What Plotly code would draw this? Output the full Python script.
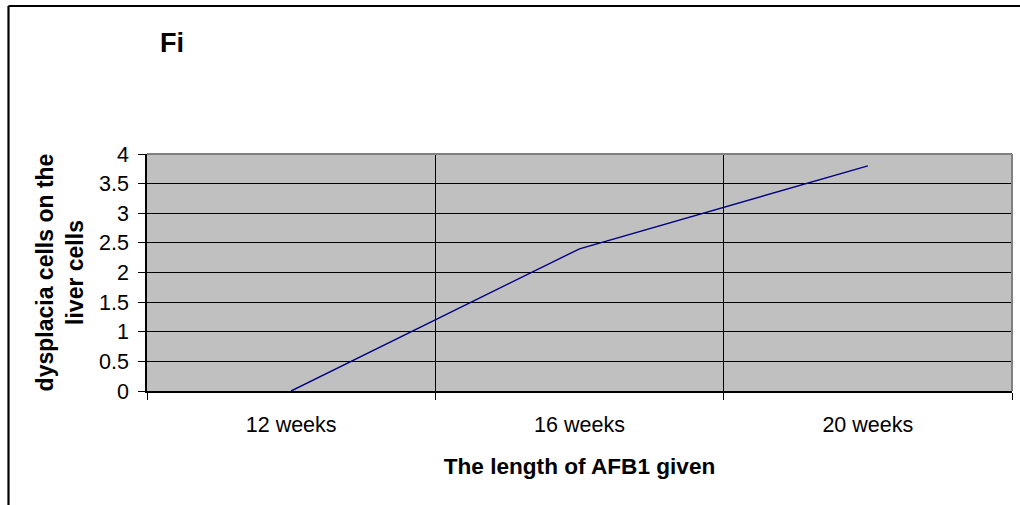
import plotly.graph_objects as go

# Data
weeks = ["12 weeks", "16 weeks", "20 weeks"]
dysplasia = [0, 2.4, 3.8]
y_ticks = [0, 0.5, 1, 1.5, 2, 2.5, 3, 3.5, 4]
y_tick_text = ["0", "0.5", "1", "1.5", "2", "2.5", "3", "3.5", "4"]

FONT = "Liberation Sans, Arial, sans-serif"

fig = go.Figure()
fig.add_trace(go.Scatter(
    x=weeks, y=dysplasia, mode="lines",
    line=dict(color="#000080", width=1.4),
    showlegend=False, hoverinfo="x+y",
))

# plot-area geometry (px) used for the outer frame position
L, R, T, B = 147, 8, 154, 114
W, H = 1020 - L - R, 505 - T - B

def px_to_paper_x(px):
    return (px - L) / W

def px_to_paper_y(py):
    return (505 - B - py) / H

fig.update_layout(
    width=1020, height=505,
    margin=dict(l=L, r=R, t=T, b=B, autoexpand=False),
    paper_bgcolor="white",
    plot_bgcolor="#C0C0C0",
    font=dict(family=FONT, size=21.5, color="black"),
    title=dict(text="<b>Fi</b>", x=160 / 1020, xanchor="left",
               y=1 - 43 / 505, yanchor="middle",
               font=dict(size=27, family=FONT, color="black")),
    xaxis=dict(
        type="category", categoryorder="array", categoryarray=weeks,
        range=[-0.5, 2.5], tickson="boundaries",
        ticks="outside", ticklen=7, tickwidth=1, tickcolor="black",
        showgrid=True, gridcolor="black", gridwidth=1,
        showline=True, linecolor="black", linewidth=1.5,
        tickfont=dict(size=21.5), ticklabelstandoff=13,
        title=dict(text="<b>The length of AFB1 given</b>",
                   font=dict(size=22.6), standoff=23),
        zeroline=False, fixedrange=True,
    ),
    yaxis=dict(
        range=[0, 4], tickvals=y_ticks, ticktext=y_tick_text,
        ticks="outside", ticklen=7, tickwidth=1, tickcolor="black",
        showgrid=True, gridcolor="black", gridwidth=1,
        showline=True, linecolor="black", linewidth=1.5,
        tickfont=dict(size=21.5), ticklabelstandoff=5,
        title=dict(text="<b>dysplacia cells on the<br>liver cells</b>",
                   font=dict(size=23), standoff=9),
        zeroline=False, fixedrange=True,
    ),
    shapes=[
        # grey border on top and right of the plot area
        dict(type="line", xref="paper", yref="paper", x0=0, x1=1, y0=1, y1=1,
             line=dict(color="#808080", width=2), layer="above"),
        dict(type="line", xref="paper", yref="paper", x0=1, x1=1, y0=0, y1=1,
             line=dict(color="#808080", width=2), layer="above"),
        # outer chart frame
        dict(type="line", xref="paper", yref="paper",
             x0=px_to_paper_x(8.5), x1=px_to_paper_x(1030),
             y0=px_to_paper_y(6), y1=px_to_paper_y(6),
             line=dict(color="black", width=2.2)),
        dict(type="line", xref="paper", yref="paper",
             x0=px_to_paper_x(8.5), x1=px_to_paper_x(8.5),
             y0=px_to_paper_y(6), y1=px_to_paper_y(515),
             line=dict(color="black", width=2.2)),
    ],
)

fig.write_html("out.html")
